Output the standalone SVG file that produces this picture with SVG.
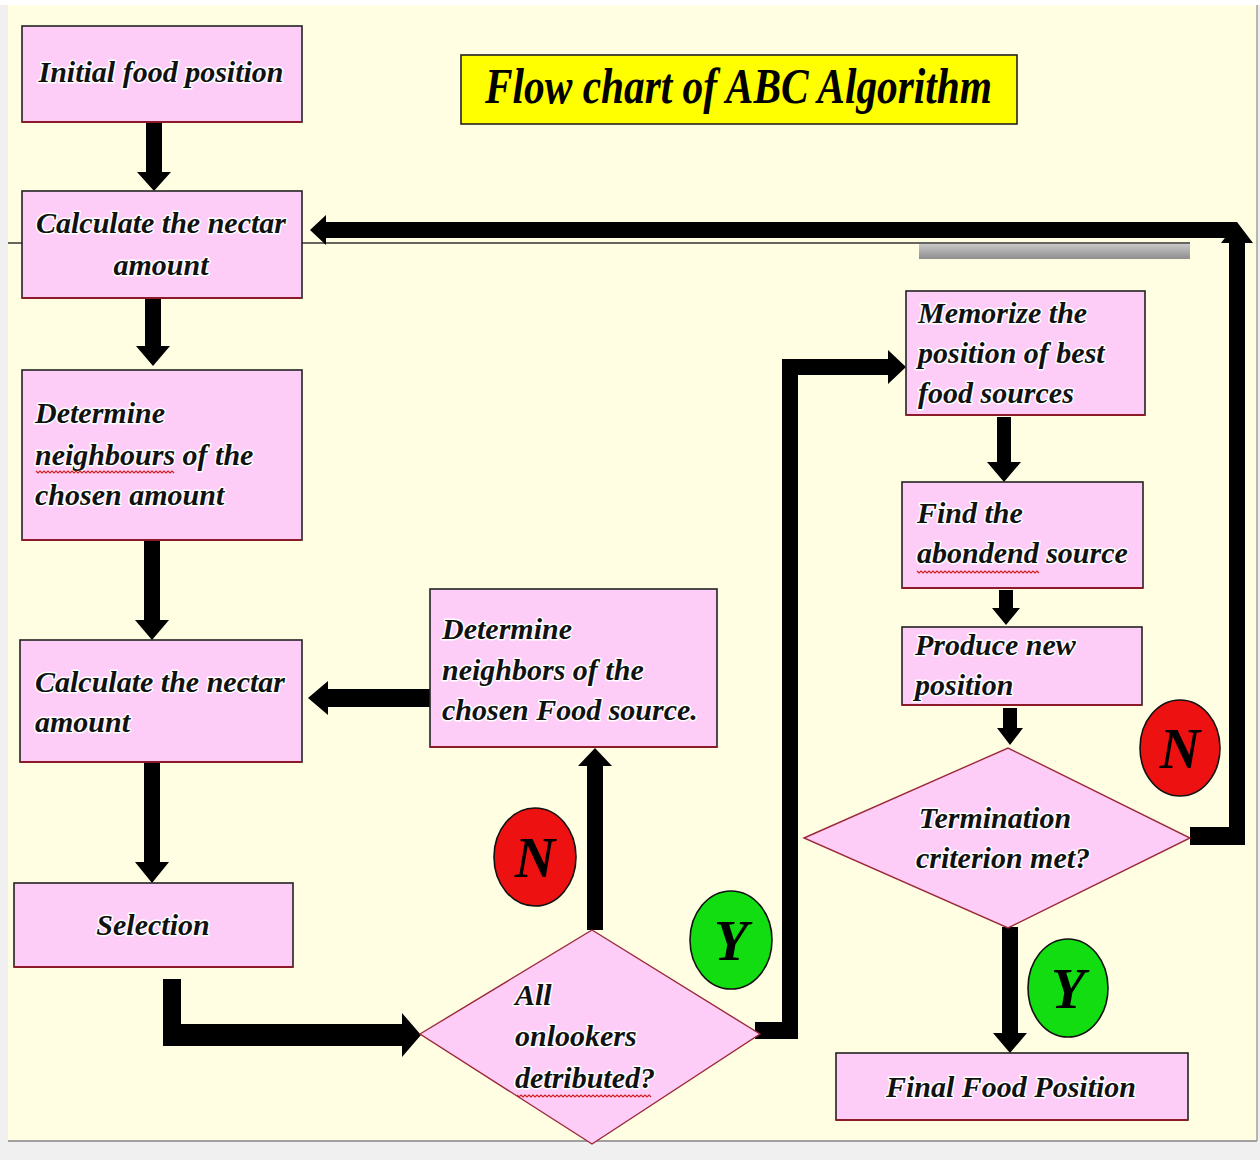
<svg xmlns="http://www.w3.org/2000/svg" width="1260" height="1160" viewBox="0 0 1260 1160">
<style>
.bg{fill:#FFFEE3}
.box{fill:#FDCDF8;stroke:#222;stroke-width:1.6}
.dia{fill:#FDCDF8;stroke:#9a2a3a;stroke-width:1.4}
.shadow{stroke:#8B1A2B;stroke-width:2}
.t{font-family:"Liberation Serif","Times New Roman",serif;font-style:italic;font-weight:bold;font-size:30px;fill:#111;stroke:#fff;stroke-width:3;paint-order:stroke;stroke-linejoin:round}
.title{font-family:"Liberation Serif","Times New Roman",serif;font-style:italic;font-weight:bold;font-size:50px;fill:#000}
.lbl{font-family:"Liberation Serif","Times New Roman",serif;font-style:italic;font-weight:bold;font-size:56px;fill:#000}
.arr{fill:#000}
.wavy{fill:none;stroke:#d02020;stroke-width:1.2}
.thin{stroke:#333;stroke-width:1.5}
</style>
<defs>
<linearGradient id="gb" x1="0" y1="0" x2="0" y2="1"><stop offset="0" stop-color="#c8c8c8"/><stop offset="1" stop-color="#8e8e8e"/></linearGradient>
</defs>
<rect x="0" y="0" width="1260" height="1160" fill="#f0f0f0"/>
<rect x="0" y="0" width="1260" height="5" fill="#ffffff"/>
<rect class="bg" x="8" y="5" width="1249" height="1136"/>
<line x1="8" y1="1141" x2="1257" y2="1141" stroke="#a0a0a0" stroke-width="2"/>
<line x1="1257" y1="5" x2="1257" y2="1141" stroke="#a0a0a0" stroke-width="1.5"/>
<line class="thin" x1="8" y1="243" x2="22" y2="243"/>
<line class="thin" x1="302" y1="243" x2="1190" y2="243"/>
<rect x="919" y="244" width="271" height="15" fill="url(#gb)"/>

<g id="title">
<rect x="461" y="55" width="556" height="69" fill="#FFFF00" stroke="#222" stroke-width="1.6"/>
<text class="title" x="485" y="103" textLength="507" lengthAdjust="spacingAndGlyphs">Flow chart of ABC Algorithm</text>
</g>

<g id="connectors">
<polygon class="arr" points="146,122 162,122 162,172 171,172 154,191 137,172 146,172"/>
<polygon class="arr" points="145,299 161,299 161,346 170,346 153,366 136,346 145,346"/>
<polygon class="arr" points="144,541 160,541 160,620 169,620 152,640 135,620 144,620"/>
<polygon class="arr" points="144,763 160,763 160,862 169,862 152,883 135,862 144,862"/>
<polygon class="arr" points="163,979 181,979 181,1024 402,1024 402,1013 421,1035 402,1057 402,1046 163,1046"/>
<polygon class="arr" points="587,930 603,930 603,766 612,766 595,748 578,766 587,766"/>
<polygon class="arr" points="430,689 430,707 328,707 328,715 308,698 328,681 328,689"/>
<polygon class="arr" points="755,1022 782,1022 782,359 888,359 888,350 906,367 888,384 888,375 798,375 798,1039 755,1039"/>
<polygon class="arr" points="997,417 1011,417 1011,462 1021,462 1004,482 987,462 997,462"/>
<polygon class="arr" points="999,590 1013,590 1013,608 1020,608 1006,625 992,608 999,608"/>
<polygon class="arr" points="1003,708 1017,708 1017,728 1023,728 1010,745 997,728 1003,728"/>
<polygon class="arr" points="1002,927 1018,927 1018,1033 1027,1033 1010,1053 993,1033 1002,1033"/>
<polygon class="arr" points="1190,827 1229,827 1229,243 1221,243 1237,222 1253,243 1245,243 1245,845 1190,845"/>
<polygon class="arr" points="1237,222 1237,238 326,238 326,245 310,230 326,215 326,222"/>
</g>

<g id="n-initial">
<rect class="box" x="22" y="26" width="280" height="96"/>
<line class="shadow" x1="22" y1="122" x2="302" y2="122"/>
<text class="t" x="161" y="82" text-anchor="middle">Initial food position</text>
</g>

<g id="n-calc1">
<rect class="box" x="22" y="191" width="280" height="107"/>
<line class="shadow" x1="22" y1="298" x2="302" y2="298"/>
<text class="t" x="161" y="233" text-anchor="middle">Calculate the nectar</text>
<text class="t" x="161" y="275" text-anchor="middle">amount</text>
</g>

<g id="n-determine1">
<rect class="box" x="22" y="370" width="280" height="170"/>
<line class="shadow" x1="22" y1="540" x2="302" y2="540"/>
<text class="t" x="35" y="423">Determine</text>
<text class="t" x="35" y="465">neighbours of the</text>
<text class="t" x="35" y="505">chosen amount</text>
<path class="wavy" d="M36,471 l2,2 l2,-2 l2,2 l2,-2 l2,2 l2,-2 l2,2 l2,-2 l2,2 l2,-2 l2,2 l2,-2 l2,2 l2,-2 l2,2 l2,-2 l2,2 l2,-2 l2,2 l2,-2 l2,2 l2,-2 l2,2 l2,-2 l2,2 l2,-2 l2,2 l2,-2 l2,2 l2,-2 l2,2 l2,-2 l2,2 l2,-2 l2,2 l2,-2 l2,2 l2,-2 l2,2 l2,-2 l2,2 l2,-2 l2,2 l2,-2 l2,2 l2,-2 l2,2 l2,-2 l2,2 l2,-2 l2,2 l2,-2 l2,2 l2,-2 l2,2 l2,-2 l2,2 l2,-2 l2,2 l2,-2 l2,2 l2,-2 l2,2 l2,-2 l2,2 l2,-2 l2,2 l2,-2 l2,2"/>
</g>

<g id="n-calc2">
<rect class="box" x="20" y="640" width="282" height="122"/>
<line class="shadow" x1="20" y1="762" x2="302" y2="762"/>
<text class="t" x="35" y="692">Calculate the nectar</text>
<text class="t" x="35" y="732">amount</text>
</g>

<g id="n-selection">
<rect class="box" x="14" y="883" width="279" height="84"/>
<line class="shadow" x1="14" y1="967" x2="293" y2="967"/>
<text class="t" x="153" y="935" text-anchor="middle">Selection</text>
</g>

<g id="n-determine2">
<rect class="box" x="430" y="589" width="287" height="158"/>
<line class="shadow" x1="430" y1="747" x2="717" y2="747"/>
<text class="t" x="442" y="639">Determine</text>
<text class="t" x="442" y="680">neighbors of the</text>
<text class="t" x="442" y="720">chosen Food source.</text>
</g>

<g id="n-onlookers">
<polygon class="dia" points="420,1034 592,930 760,1034 592,1144"/>
<text class="t" x="515" y="1005">All</text>
<text class="t" x="515" y="1046">onlookers</text>
<text class="t" x="515" y="1088">detributed?</text>
<path class="wavy" d="M517,1095 l2,2 l2,-2 l2,2 l2,-2 l2,2 l2,-2 l2,2 l2,-2 l2,2 l2,-2 l2,2 l2,-2 l2,2 l2,-2 l2,2 l2,-2 l2,2 l2,-2 l2,2 l2,-2 l2,2 l2,-2 l2,2 l2,-2 l2,2 l2,-2 l2,2 l2,-2 l2,2 l2,-2 l2,2 l2,-2 l2,2 l2,-2 l2,2 l2,-2 l2,2 l2,-2 l2,2 l2,-2 l2,2 l2,-2 l2,2 l2,-2 l2,2 l2,-2 l2,2 l2,-2 l2,2 l2,-2 l2,2 l2,-2 l2,2 l2,-2 l2,2 l2,-2 l2,2 l2,-2 l2,2 l2,-2 l2,2 l2,-2 l2,2 l2,-2 l2,2 l2,-2 l2,2"/>
</g>

<g id="lbl-n1">
<ellipse cx="535" cy="857" rx="41" ry="49" fill="#EE1111" stroke="#111" stroke-width="1.6"/>
<text class="lbl" x="535" y="877" text-anchor="middle">N</text>
</g>
<g id="lbl-y1">
<ellipse cx="731" cy="940" rx="41" ry="49" fill="#11DD11" stroke="#111" stroke-width="1.6"/>
<text class="lbl" x="731" y="960" text-anchor="middle">Y</text>
</g>

<g id="n-memorize">
<rect class="box" x="906" y="291" width="239" height="124"/>
<line class="shadow" x1="906" y1="415" x2="1145" y2="415"/>
<text class="t" x="918" y="323">Memorize the</text>
<text class="t" x="918" y="363">position of best</text>
<text class="t" x="918" y="403">food sources</text>
</g>

<g id="n-find">
<rect class="box" x="902" y="482" width="241" height="106"/>
<line class="shadow" x1="902" y1="588" x2="1143" y2="588"/>
<text class="t" x="917" y="523">Find the</text>
<text class="t" x="917" y="563">abondend source</text>
<path class="wavy" d="M917,571 l2,2 l2,-2 l2,2 l2,-2 l2,2 l2,-2 l2,2 l2,-2 l2,2 l2,-2 l2,2 l2,-2 l2,2 l2,-2 l2,2 l2,-2 l2,2 l2,-2 l2,2 l2,-2 l2,2 l2,-2 l2,2 l2,-2 l2,2 l2,-2 l2,2 l2,-2 l2,2 l2,-2 l2,2 l2,-2 l2,2 l2,-2 l2,2 l2,-2 l2,2 l2,-2 l2,2 l2,-2 l2,2 l2,-2 l2,2 l2,-2 l2,2 l2,-2 l2,2 l2,-2 l2,2 l2,-2 l2,2 l2,-2 l2,2 l2,-2 l2,2 l2,-2 l2,2 l2,-2 l2,2 l2,-2 l2,2"/>
</g>

<g id="n-produce">
<rect class="box" x="902" y="627" width="240" height="78"/>
<line class="shadow" x1="902" y1="705" x2="1142" y2="705"/>
<text class="t" x="915" y="655">Produce new</text>
<text class="t" x="915" y="695">position</text>
</g>

<g id="n-termination">
<polygon class="dia" points="804,838 1008,748 1190,838 1008,928"/>
<text class="t" x="995" y="828" text-anchor="middle">Termination</text>
<text class="t" x="1003" y="868" text-anchor="middle">criterion met?</text>
</g>

<g id="lbl-n2">
<ellipse cx="1180" cy="748" rx="40" ry="48" fill="#EE1111" stroke="#111" stroke-width="1.6"/>
<text class="lbl" x="1180" y="768" text-anchor="middle">N</text>
</g>
<g id="lbl-y2">
<ellipse cx="1068" cy="988" rx="40" ry="49" fill="#11DD11" stroke="#111" stroke-width="1.6"/>
<text class="lbl" x="1068" y="1008" text-anchor="middle">Y</text>
</g>

<g id="n-final">
<rect class="box" x="836" y="1053" width="352" height="67"/>
<line class="shadow" x1="836" y1="1120" x2="1188" y2="1120"/>
<text class="t" x="1011" y="1097" text-anchor="middle">Final Food Position</text>
</g>
</svg>
